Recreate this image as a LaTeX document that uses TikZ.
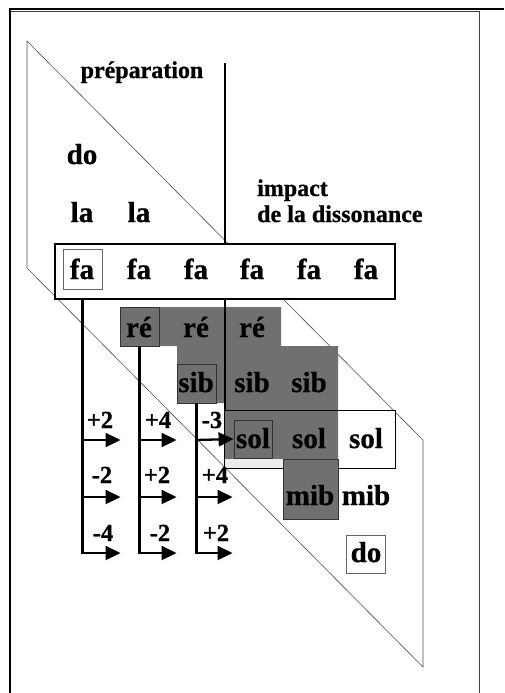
\documentclass[tikz,border=0pt]{standalone}
\usepackage{fontspec}
\setmainfont{Liberation Serif}[BoldFeatures={FakeBold=0.8}]
\usetikzlibrary{arrows.meta}
\definecolor{cellgray}{RGB}{112,112,112}
\definecolor{lightstrip}{RGB}{236,236,236}
\definecolor{thinline}{RGB}{80,80,80}
\begin{document}
\begin{tikzpicture}[x=1pt,y=-1pt,
  note/.style={font=\fontsize{29}{31}\selectfont\bfseries, anchor=base, inner sep=0pt},
  num/.style={font=\fontsize{24.5}{26}\selectfont\bfseries, anchor=base, inner sep=0pt},
  lbl/.style={font=\fontsize{24}{26}\selectfont\bfseries, anchor=base west, inner sep=0pt},
  cellbox/.style={draw=black!80, line width=0.8pt, inner sep=0pt, fill=cellgray},
  whitebox/.style={draw=black!60, line width=0.8pt, inner sep=0pt, fill=white},
  thickline/.style={line width=2.2pt},
  arr/.style={line width=2.3pt, -{Triangle[length=15pt,width=14pt]}},
  para/.style={draw=thinline, line width=0.6pt}]
\useasboundingbox (0,0) rectangle (504,693);
\fill[white] (0,0) rectangle (504,693);
% frame
\draw[line width=1pt, black!75] (10,12) -- (479,12) -- (479,693);
\draw[line width=2.4pt] (9,9) -- (504,9);
\draw[line width=2.4pt] (10,8) -- (10,693);
% parallelogram
\draw[para] (27,41) -- (423,440) -- (423,667) -- (27,268) -- cycle;
% top labels
\node[lbl, anchor=base] (prep) at (142,78) {préparation};
\node[lbl] (imp1) at (257,196) {impact};
\node[lbl] (imp2) at (257,222) {de la dissonance};
\node[note] (do0) at (82,164) {do};
\node[note] (la1) at (82,222) {la};
\node[note] (la2) at (139,222) {la};
% impact line top point
\coordinate (itop) at (225,63);
% fa box
\node[draw, line width=1.1pt, fill=white, minimum width=340pt, minimum height=55pt, inner sep=0pt] (fabox) at (225,271.5) {};
% sol box fill
\node[fill=white, minimum width=170pt, minimum height=57pt, inner sep=0pt] (solbox) at (310,439.5) {};
% gray region
\fill[cellgray] (120,307) -- (281,307) -- (281,346) -- (338,346) -- (338,519) -- (283,519) -- (283,459) -- (225,459) -- (225,403) -- (177,403) -- (177,346) -- (120,346) -- cycle;
\fill[lightstrip] (225,459) rectangle (283,468);
\draw[line width=1pt] (solbox.north west) rectangle (solbox.south east);
% impact line
\draw[thickline] (itop) -- (itop |- fabox.north);
\draw[thickline] (itop |- fabox.south) -- (itop |- solbox.north);
% boxed cells
\node[whitebox, minimum width=39pt, minimum height=40pt] (fa1box) at (82.5,269) {};
\node[cellbox, minimum width=39pt, minimum height=39pt] (re1box) at (139.5,326.5) {};
\node[cellbox, minimum width=39pt, minimum height=39pt] (sib1box) at (196.5,383.5) {};
\node[cellbox, minimum width=38pt, minimum height=38pt] (sol1box) at (253,439) {};
\node[cellbox, minimum width=55pt, minimum height=60pt] (mib1box) at (310.5,489) {};
\node[whitebox, minimum width=39pt, minimum height=38pt] (do1box) at (365.5,554) {};
% notes
\node[note] (fa1) at (82,279) {fa};
\node[note] (fa2) at (139,279) {fa};
\node[note] (fa3) at (196,279) {fa};
\node[note] (fa4) at (252,279) {fa};
\node[note] (fa5) at (309,279) {fa};
\node[note] (fa6) at (366,279) {fa};
\node[note] (re1) at (139,337) {ré};
\node[note] (re2) at (196,337) {ré};
\node[note] (re3) at (252,337) {ré};
\node[note] (sib1) at (196,392) {sib};
\node[note] (sib2) at (252,392) {sib};
\node[note] (sib3) at (309,392) {sib};
\node[note] (sol1) at (253,448) {sol};
\node[note] (sol2) at (309,448) {sol};
\node[note] (sol3) at (366,448) {sol};
\node[note] (mib1) at (310,505) {mib};
\node[note] (mib2) at (366,505) {mib};
\node[note] (do1) at (366,562) {do};
% arrow rows
\coordinate (r1) at (0,440);
\coordinate (r2) at (0,497);
\coordinate (r3) at (0,553);
\draw[arr] (fa1box.south |- fabox.south) -- (fa1box.south |- r3) -- ++(38,0);
\draw[arr] (re1box.south) -- (re1box.south |- r3) -- ++(37,0);
\draw[arr] (sib1box.south) -- (sib1box.south |- r3) -- ++(36,0);
\draw[arr] (fa1box.south |- r1) -- ++(38,0);
\draw[arr] (fa1box.south |- r2) -- ++(38,0);
\draw[arr] (re1box.south |- r1) -- ++(37,0);
\draw[arr] (re1box.south |- r2) -- ++(37,0);
\draw[arr] (sib1box.south |- r1) -- (sol1box.west);
\draw[arr] (sib1box.south |- r2) -- ++(36,0);
% interval numbers
\node[num] (n11) at (100,428) {+2};
\node[num] (n12) at (158,428) {+4};
\node[num] (n13) at (212,428) {-3};
\node[num] (n21) at (102,483) {-2};
\node[num] (n22) at (157,483) {+2};
\node[num] (n23) at (215,483) {+4};
\node[num] (n31) at (103,541) {-4};
\node[num] (n32) at (160,541) {-2};
\node[num] (n33) at (216,541) {+2};
\end{tikzpicture}
\end{document}
